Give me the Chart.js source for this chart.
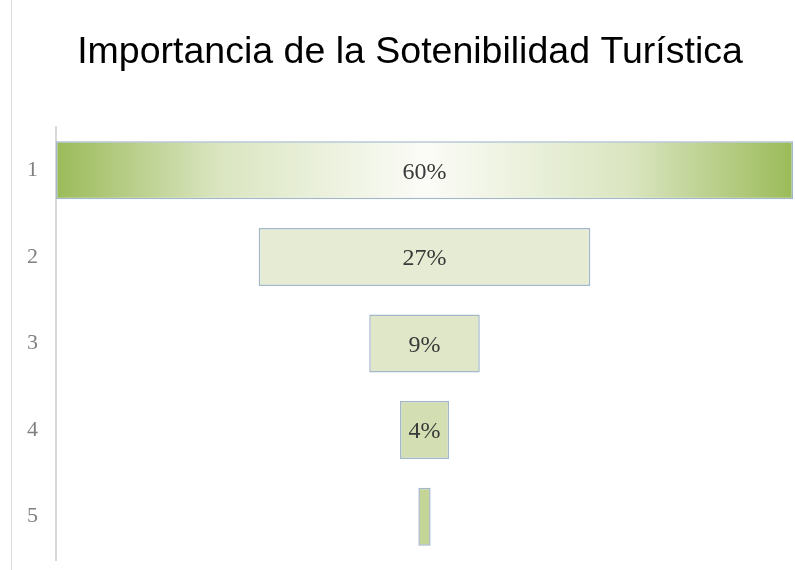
<!DOCTYPE html>
<html>
<head>
<meta charset="utf-8">
<script src="https://cdn.jsdelivr.net/npm/chart.js@4"></script>
<style>
    html, body { margin: 0; padding: 0; background: #fff; }
    #wrap { position: relative; width: 795px; height: 570px; }
    #frame { position: absolute; left: 11px; top: 0; width: 1px; height: 570px; background: #dcdcdc; }
    canvas { display: block; }
</style>
</head>
<body>
<div id="wrap">
    <div id="frame"></div>
    <canvas id="chart" width="795" height="570"></canvas>
</div>
<script>
'use strict';

// categories and values
const levels = ['1', '2', '3', '4', '5'];
const shares = [60, 27, 9, 4, 1];
const shareLabels = ['60%', '27%', '9%', '4%', ''];

const fills = ['#9bbb59', '#e5ecd3', '#dfe7c8', '#d3dfb2', '#c5d598'];

// funnel: each bar is centred on zero
const spans = shares.map(v => [-v / 2, v / 2]);

const ctx = document.getElementById('chart').getContext('2d');

function barFill(context) {
    const chart = context.chart;
    const area = chart.chartArea;
    if (!area) {
        return fills[context.dataIndex];
    }
    if (context.dataIndex === 0) {
        const g = chart.ctx.createLinearGradient(area.left, 0, area.right, 0);
        g.addColorStop(0, '#9bbb59');
        g.addColorStop(0.22, '#dae5c0');
        g.addColorStop(0.5, '#fbfcf7');
        g.addColorStop(0.78, '#dae5c0');
        g.addColorStop(1, '#9bbb59');
        return g;
    }
    return fills[context.dataIndex];
}

// writes the percentages in the middle of each bar
const valueLabels = {
    id: 'valueLabels',
    afterDatasetsDraw: function (chart) {
        const c = chart.ctx;
        const meta = chart.getDatasetMeta(0);
        c.save();
        c.font = '24px "Liberation Serif", "DejaVu Serif", serif';
        c.fillStyle = '#3a3a3a';
        c.textAlign = 'center';
        c.textBaseline = 'middle';
        meta.data.forEach((bar, i) => {
            if (shareLabels[i]) {
                c.fillText(shareLabels[i], (bar.x + bar.base) / 2, bar.y + 2);
            }
        });
        c.restore();
    }
};

new Chart(ctx, {
    type: 'bar',
    data: {
        labels: levels,
        datasets: [{
            data: spans,
            backgroundColor: barFill,
            borderColor: '#a3b7cb',
            borderWidth: 1.5,
            borderSkipped: false,
            barPercentage: 0.67,
            categoryPercentage: 1
        }]
    },
    options: {
        indexAxis: 'y',
        responsive: false,
        animation: false,
        layout: {
            padding: { left: 27, right: 2, top: 0, bottom: 10 }
        },
        plugins: {
            legend: { display: false },
            tooltip: { enabled: false },
            title: {
                display: true,
                text: 'Importancia de la Sotenibilidad Turística',
                color: '#000',
                font: { family: '"Liberation Sans", Arial, sans-serif', size: 37.5, weight: 'normal', lineHeight: 1.2 },
                padding: { top: 30, bottom: 52 }
            }
        },
        scales: {
            x: {
                display: false,
                min: -30,
                max: 30
            },
            y: {
                grid: { display: false, drawTicks: false },
                border: { display: true, color: '#d9d9d9', width: 2 },
                ticks: {
                    color: '#808080',
                    padding: 0,
                    crossAlign: 'far',
                    font: { family: '"Liberation Serif", "DejaVu Serif", serif', size: 22, lineHeight: 0.8 }
                },
                afterFit: function (scale) {
                    scale.width = 29;
                }
            }
        }
    },
    plugins: [valueLabels]
});
</script>
</body>
</html>
